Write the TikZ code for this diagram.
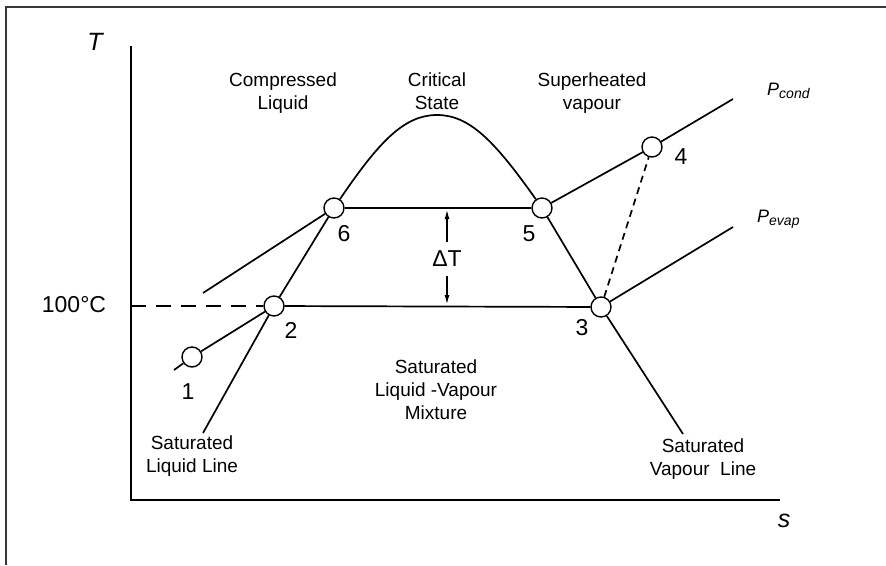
\documentclass[tikz,border=0pt]{standalone}
\usepackage{fontspec}
\setmainfont{Liberation Sans}
\usetikzlibrary{arrows.meta}
\begin{document}
\begin{tikzpicture}[x=1pt,y=-1pt,
  ln/.style={line width=1.7pt},
  axis/.style={line width=2pt},
  statept/.style={circle,draw,fill=white,line width=1.4pt,minimum size=20pt,inner sep=0pt},
  txt/.style={font=\fontsize{19}{23}\selectfont,align=center,inner sep=0pt},
  num/.style={font=\fontsize{23}{26}\selectfont,inner sep=0pt},
  axlab/.style={font=\fontsize{25}{28}\selectfont\itshape,inner sep=0pt},
  plab/.style={font=\fontsize{18}{20}\selectfont\itshape,inner sep=0pt,anchor=base west},
  dtarrow/.style={ln,-{Latex[length=10pt,width=5pt]}}]
\useasboundingbox (0,0) rectangle (886,565);

% outer frame
\coordinate (fa) at (6,565);
\coordinate (fb) at (6,7);
\coordinate (fc) at (886,7);
\draw[line width=2pt,black!78] (fa) -- (fb) -- (fc);

% axes
\coordinate (ytop) at (131,46);
\coordinate (orig) at (131,500);
\coordinate (xend) at (780,500);
\draw[axis] (ytop) -- (orig) -- (xend);
\node[axlab] (Tlab) at (95,42) {T};
\node[axlab] (slab) at (784,521) {s};
\node[num] (tlab) at (74,305) {100°C};

% state points
\node[statept] (p1) at (192,357) {};
\node[statept] (p2) at (274,306) {};
\node[statept] (p3) at (601,307) {};
\node[statept] (p4) at (652,147) {};
\node[statept] (p5) at (542,208) {};
\node[statept] (p6) at (334,208) {};

% free line ends
\coordinate (ax100) at (131,306);
\coordinate (l1end) at (174,370);
\coordinate (cl) at (203,293);
\coordinate (sll) at (203,433);
\coordinate (svl) at (683,434);
\coordinate (pc) at (733,99);
\coordinate (pe) at (733,227);
\coordinate (peak) at (437,115);

% saturation dome and lines
\draw[ln] (p6) .. controls (380,140) and (405,115) .. (peak)
               .. controls (469,115) and (494,140) .. (p5);
\draw[ln] (sll) -- (p2) -- (p6);
\draw[ln] (p5) -- (p3) -- (svl);
\draw[ln] (p6) -- (p5);
\draw[ln] (p2) -- (p3);
\draw[ln,dash pattern=on 15pt off 10pt] (ax100) -- (p2);

% isobars
\draw[ln] (l1end) -- (p1) -- (p2);
\draw[ln] (cl) -- (p6);
\draw[ln] (p5) -- (p4) -- (pc);
\draw[ln] (p3) -- (pe);
\draw[ln,dash pattern=on 7pt off 5pt] (p3) -- (p4);

% temperature difference
\node[num,minimum height=33pt] (dT) at (447,259) {ΔT};
\coordinate (dTa) at (447,209);
\coordinate (dTb) at (447,305);
\draw[dtarrow] (dT.north) -- (dTa);
\draw[dtarrow] (dT.south) -- (dTb);

% point numbers
\node[num] (n1) at (188,392) {1};
\node[num] (n2) at (291,330) {2};
\node[num] (n3) at (582,328) {3};
\node[num] (n4) at (681,157) {4};
\node[num] (n5) at (529,234) {5};
\node[num] (n6) at (344,234) {6};

% pressure labels
\node[plab] (pcond) at (767,95) {P\raisebox{-0.35ex}{\fontsize{14}{14}\selectfont cond}};
\node[plab] (pevap) at (757,222) {P\raisebox{-0.35ex}{\fontsize{14}{14}\selectfont evap}};

% region labels
\node[txt] (comp) at (283,93) {Compressed\\Liquid};
\node[txt] (crit) at (437,91) {Critical\\State};
\node[txt] (sup) at (592,93) {Superheated\\vapour};
\node[txt] (mix) at (436,390) {Saturated\\Liquid -Vapour\\Mixture};
\node[txt] (sliq) at (192,456) {Saturated\\Liquid Line};
\node[txt] (svap) at (703,459) {Saturated\\Vapour\ \ Line};
\end{tikzpicture}
\end{document}
